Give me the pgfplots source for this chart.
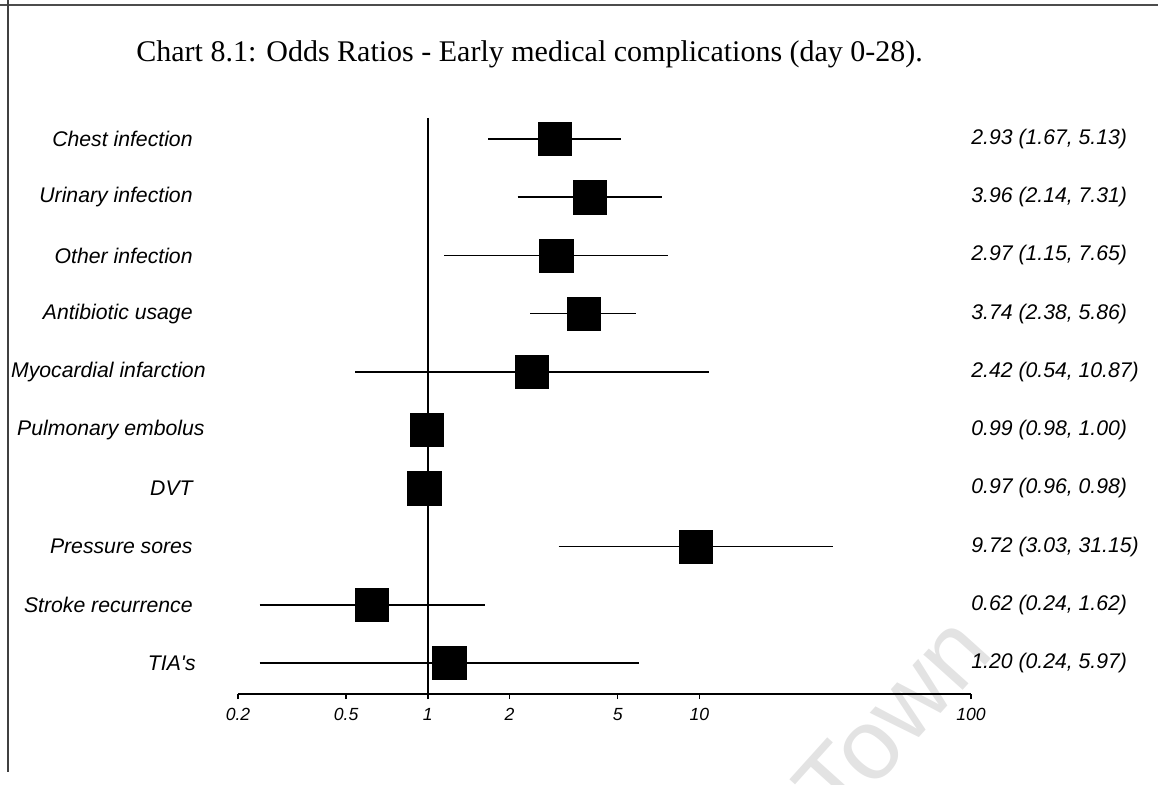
\documentclass[border=0pt]{standalone}
\usepackage{fontspec}
\setmainfont{Liberation Serif}
\newfontfamily\arialfont{Liberation Sans}
\usepackage{pgfplots}
\pgfplotsset{compat=1.18}
\usepackage{pgfplotstable}

% row, odds ratio, lower CI, upper CI
\pgfplotstableread[row sep=\\]{
r or lo hi\\
1 2.93 1.67 5.13\\
2 3.96 2.14 7.31\\
3 2.97 1.15 7.65\\
4 3.74 2.38 5.86\\
5 2.42 0.54 10.87\\
6 0.99 0.98 1.00\\
7 0.97 0.96 0.98\\
8 9.72 3.03 31.15\\
9 0.62 0.24 1.62\\
10 1.20 0.24 5.97\\
}\ortable

\begin{document}
\begin{tikzpicture}
% watermark
\node[rotate=48, text=black!11, inner sep=0pt] at (446pt,33pt) {\fontsize{50}{54}\selectfont\arialfont Town};
% frame
\draw[black!70, line width=0.7pt] (0pt,389.5pt) -- (579pt,389.5pt);
\draw[black!75, line width=0.6pt] (4pt,392pt) -- (4pt,6pt);
% title
\node[anchor=base west, inner sep=0pt] at (68pt,361pt) {\fontsize{15}{18}\selectfont Chart 8.1: Odds Ratios - Early medical complications (day 0-28).};

\begin{axis}[
  at={(119pt,45pt)}, anchor=south west,
  scale only axis, width=366.5pt, height=288pt,
  xmode=log, xmin=0.2, xmax=100,
  ymin=0.639, ymax=10.533, y dir=reverse,
  axis x line*=bottom, axis y line=none,
  ytick=\empty,
  xtick={0.2,0.5,1,2,5,10,100},
  xticklabels={0.2,0.5,1,2,5,10,100},
  xtick align=outside, major tick length=2.5pt,
  x axis line style={line width=0.75pt},
  every tick/.style={black, line width=0.75pt},
  xticklabel style={font=\arialfont\itshape\fontsize{8.8}{10}\selectfont, inner sep=0pt, anchor=north},
  xticklabel shift=4.5pt,
  clip=false,
]
% reference line at OR = 1
\addplot[black, line width=0.9pt] coordinates {(1,0.639) (1,10.533)};
% confidence intervals
\addplot[black, line width=0.75pt, unbounded coords=jump] coordinates {
(1.67,1) (5.13,1) (nan,nan)
(2.14,2) (7.31,2) (nan,nan)
(1.15,3) (7.65,3) (nan,nan)
(2.38,4) (5.86,4) (nan,nan)
(0.54,5) (10.87,5) (nan,nan)
(0.98,6) (1.00,6) (nan,nan)
(0.96,7) (0.98,7) (nan,nan)
(3.03,8) (31.15,8) (nan,nan)
(0.24,9) (1.62,9) (nan,nan)
(0.24,10) (5.97,10)
};
% odds ratios
\addplot[only marks, mark=square*, mark size=8.3pt, mark options={fill=black, draw=black, line width=0.3pt}] table[x=or, y=r] {\ortable};

% category labels
\begin{scope}[every node/.style={anchor=east, inner sep=0pt, font=\arialfont\itshape\fontsize{10.6}{12}\selectfont}]
\node at ([xshift=-22.5pt]axis cs:0.2,1) {Chest infection};
\node at ([xshift=-22.5pt]axis cs:0.2,2) {Urinary infection};
\node at ([xshift=-22.5pt]axis cs:0.2,3) {Other infection};
\node at ([xshift=-22.5pt]axis cs:0.2,4) {Antibiotic usage};
\node at ([xshift=-16pt]axis cs:0.2,5) {Myocardial infarction};
\node at ([xshift=-16.5pt]axis cs:0.2,6) {Pulmonary embolus};
\node at ([xshift=-22.5pt]axis cs:0.2,7) {DVT};
\node at ([xshift=-22.5pt]axis cs:0.2,8) {Pressure sores};
\node at ([xshift=-22.5pt]axis cs:0.2,9) {Stroke recurrence};
\node at ([xshift=-21pt]axis cs:0.2,10) {TIA's};
\end{scope}
% values
\begin{scope}[every node/.style={anchor=west, inner sep=0pt, font=\arialfont\itshape\fontsize{10.6}{12}\selectfont}]
\node at (axis cs:100,1) {2.93 (1.67, 5.13)};
\node at (axis cs:100,2) {3.96 (2.14, 7.31)};
\node at (axis cs:100,3) {2.97 (1.15, 7.65)};
\node at (axis cs:100,4) {3.74 (2.38, 5.86)};
\node at (axis cs:100,5) {2.42 (0.54, 10.87)};
\node at (axis cs:100,6) {0.99 (0.98, 1.00)};
\node at (axis cs:100,7) {0.97 (0.96, 0.98)};
\node at (axis cs:100,8) {9.72 (3.03, 31.15)};
\node at (axis cs:100,9) {0.62 (0.24, 1.62)};
\node at (axis cs:100,10) {1.20 (0.24, 5.97)};
\end{scope}
\end{axis}
\pgfresetboundingbox
\useasboundingbox (0pt,0pt) rectangle (579pt,392pt);
\end{tikzpicture}
\end{document}
